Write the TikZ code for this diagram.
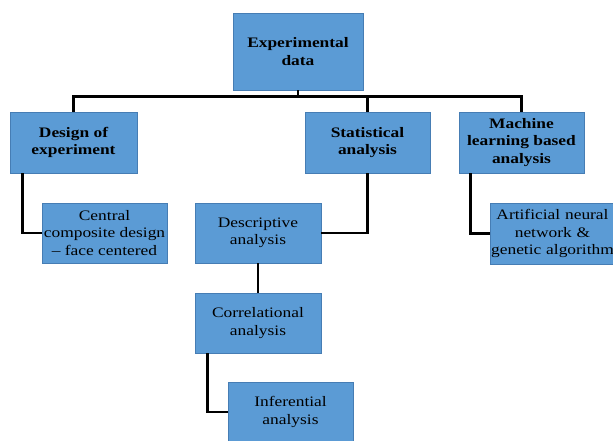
\documentclass[tikz,border=0pt]{standalone}
\usepackage{fontspec}
\setmainfont{Liberation Serif}[FakeStretch=1.2]
\usetikzlibrary{calc}
\definecolor{boxfill}{RGB}{91,155,213}
\definecolor{boxline}{RGB}{70,125,180}
\begin{document}
\begin{tikzpicture}[x=1pt,y=-1pt,
  box/.style={draw=boxline,line width=0.6pt,fill=boxfill,align=center,inner sep=1pt,
    font=\fontsize{14.5}{17.5}\selectfont,text=black},
  topbox/.style={box,font=\fontsize{14.5}{17.5}\selectfont\bfseries},
  link/.style={line width=2.6pt,black}]
\useasboundingbox (0,0) rectangle (613,440);
\clip (0,0) rectangle (613,440);
\node[topbox,minimum width=130pt,minimum height=77pt] (exp) at (298,51.5) {Experimental\\data};
\node[topbox,minimum width=127pt,minimum height=61pt] (doe) at (73.5,142.5) {Design of\\experiment};
\node[topbox,minimum width=125pt,minimum height=61pt] (stat) at (367.5,142.5) {Statistical\\analysis};
\node[topbox,minimum width=125pt,minimum height=61pt] (ml) at (521.5,142.5) {Machine\\learning based\\analysis};
\node[box,minimum width=125pt,minimum height=60pt] (ccd) at (104.5,233) {Central\\composite design\\– face centered};
\node[box,minimum width=126pt,minimum height=60pt] (desc) at (258,233) {Descriptive\\analysis};
\node[box,minimum width=126pt,minimum height=60pt] (corr) at (258,323) {Correlational\\analysis};
\node[box,minimum width=125pt,minimum height=60pt] (inf) at (290.5,412) {Inferential\\analysis};
\node[box,minimum width=125pt,minimum height=61pt,text width=123pt] (ann) at (552.5,233.5) {Artificial neural\\network \&\\genetic algorithm};
\coordinate (bus) at (0,96.5);
\draw[link] (exp.south) -- (exp.south |- bus);
\draw[link] (doe.north) |- (ml.north |- bus) -- (ml.north);
\draw[link] (stat.north |- bus) -- (stat.north);
\draw[link] ($(doe.south west)+(13,0)$) |- (ccd.west);
\draw[link] (stat.south) |- (desc.east);
\draw[link] ($(ml.south west)+(12,0)$) |- (ann.west);
\draw[link] (desc.south) -- (corr.north);
\draw[link] ($(corr.south west)+(13,0)$) |- (inf.west);
\end{tikzpicture}
\end{document}
